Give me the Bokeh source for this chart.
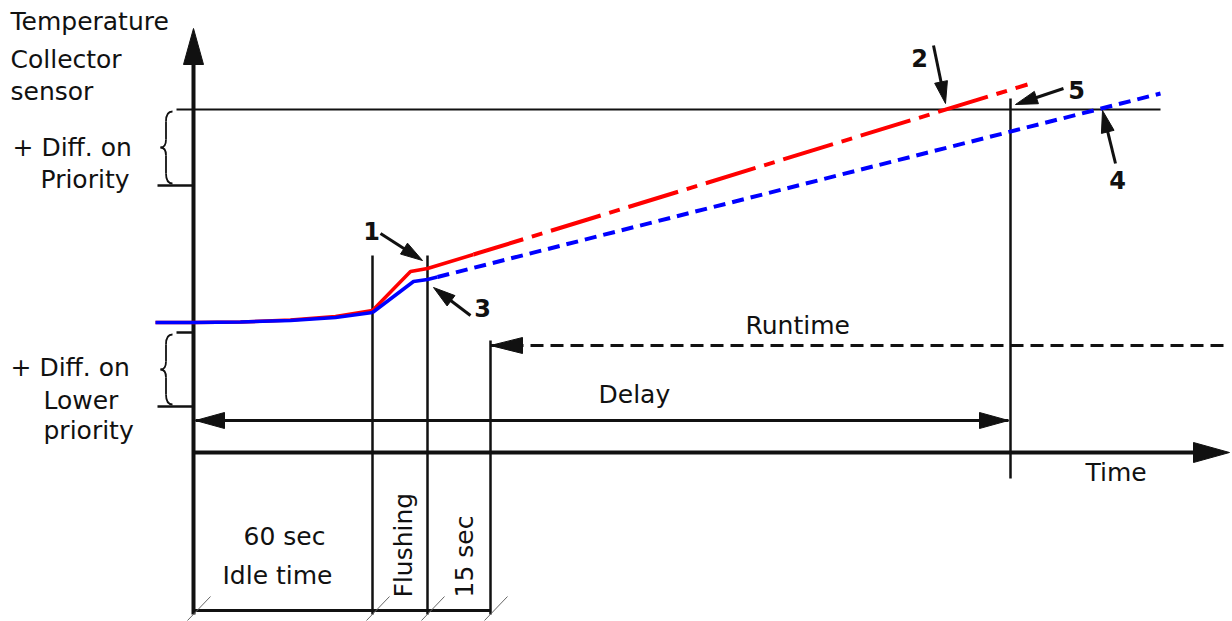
import math
from bokeh.plotting import figure
from bokeh.models import Range1d
from bokeh.core.properties import value
from bokeh.embed import file_html
from bokeh.resources import INLINE

# ---------------- data (diagram units) ----------------
# shared start of both sensor curves (idle period)
idle_x = [155, 193, 240, 290, 335, 372]
idle_red_y = [322, 322, 321.5, 319.5, 316, 310]
idle_blue_y = [322, 322, 321.5, 320, 317, 312]
# flushing rise, then the run phase
red_solid_x = [372, 410, 427, 473]
red_solid_y = [310, 271, 268, 254]
red_dash_x = [473, 1027]
red_dash_y = [254, 84]
blue_solid_x = [372, 413, 427, 437]
blue_solid_y = [312, 281, 279, 276.5]
blue_dash_x = [437, 1160]
blue_dash_y = [276.5, 93]

# axes
origin_x, origin_y = 193, 452
y_axis_top = 28
x_axis_end = 1229
threshold_y = 109
threshold_x = [176, 1160]
# short ticks on the temperature axis: (y, x_start)
tick_y = [185, 332, 406]
tick_x0 = [157, 176, 157]
brace_spans = [(111, 183), (334, 404)]

# time markers (x), their vertical extents
marker_x = [372, 427, 490, 1010]
marker_top = [255, 255, 340, 98]
marker_bottom = [614, 614, 614, 478]
bottom_line_y = 610

runtime_y = 345
runtime_x = [490, 1224]
delay_y = 420
delay_x = [195, 1008]

# numbered pointer arrows: label, label x, label baseline, shaft start, tip
pointer_labels = ["1", "2", "3", "4", "5"]
pointer_lx = [371, 919, 482, 1117, 1076]
pointer_ly = [238, 65, 315, 187, 97]
pointer_from = [(380, 233), (933, 45), (470, 315), (1115, 163), (1063, 88)]
pointer_tip = [(422, 260), (945, 103), (433, 287), (1102, 110), (1015, 104)]

# texts
left_texts = ["Temperature", "Collector", "sensor", "+ Diff. on", "Priority",
              "+ Diff. on", "Lower", "priority"]
left_tx = [10, 10, 10, 12, 40, 10, 43, 43]
left_ty = [29, 67, 99, 155, 187, 375, 408, 438]
mid_texts = ["Runtime", "Delay", "Time", "60 sec", "Idle time"]
mid_tx = [745, 598, 1085, 243, 222]
mid_ty = [333, 402, 480, 544, 583]
rot_texts = ["Flushing", "15 sec"]
rot_tx = [411, 472]
rot_ty = [597, 597]

# ---------------- figure ----------------
W, H = 1232, 621
p = figure(width=W, height=H, output_backend="svg", toolbar_location=None,
           x_range=Range1d(0, W), y_range=Range1d(H, 0),
           min_border=0, outline_line_color=None, background_fill_color="white")
p.axis.visible = False
p.grid.visible = False

FONT = value("DejaVu Sans")
INK = "#111111"
FS = "25px"
BASE_SHIFT = 8  # renderer puts the alphabetic baseline ~8px lower than requested


def head(tip, frm, L, Wd):
    dx, dy = tip[0] - frm[0], tip[1] - frm[1]
    n = math.hypot(dx, dy)
    ux, uy = dx / n, dy / n
    bx, by = tip[0] - ux * L, tip[1] - uy * L
    px, py = -uy * Wd / 2, ux * Wd / 2
    return [tip[0], bx + px, bx - px], [tip[1], by + py, by - py]


heads_x, heads_y = [], []


def add_head(tip, frm, L, Wd):
    hx, hy = head(tip, frm, L, Wd)
    heads_x.append(hx)
    heads_y.append(hy)


# axes
p.line([origin_x, origin_x], [614, y_axis_top + 20], line_color=INK, line_width=4)
p.line([origin_x, x_axis_end - 20], [origin_y, origin_y], line_color=INK, line_width=4)
add_head((origin_x, y_axis_top), (origin_x, y_axis_top + 50), 36, 20)
add_head((x_axis_end, origin_y), (x_axis_end - 50, origin_y), 36, 20)

# threshold line
p.line(threshold_x, [threshold_y, threshold_y], line_color=INK, line_width=2)
# ticks
p.segment(x0=tick_x0, y0=tick_y, x1=[origin_x] * len(tick_y), y1=tick_y,
          line_color=INK, line_width=2.5)

# braces
for top, bot in brace_spans:
    mid = (top + bot) / 2
    xs, xr, xt = 165.5, 172, 160
    p.quadratic(x0=[xr, xs, xt, xs], y0=[top, mid - 8, mid, bot - 10],
                x1=[xs, xt, xs, xr], y1=[top + 10, mid, mid + 8, bot],
                cx=[xs, xs, xs, xs], cy=[top, mid, mid, bot],
                line_color=INK, line_width=1.8)
    p.segment(x0=[xs, xs], y0=[top + 10, mid + 8], x1=[xs, xs], y1=[mid - 8, bot - 10],
              line_color=INK, line_width=1.8)

# time markers
p.segment(x0=marker_x, y0=marker_top, x1=marker_x, y1=marker_bottom,
          line_color=INK, line_width=2.5)
p.line([origin_x, marker_x[2]], [bottom_line_y, bottom_line_y], line_color=INK, line_width=3)
slash_x = [origin_x] + marker_x[:3]
p.segment(x0=[x - 6 for x in slash_x], y0=[620] * 4, x1=[x + 17 for x in slash_x], y1=[596] * 4,
          line_color="#666666", line_width=1)

# runtime & delay arrows
p.line(runtime_x, [runtime_y, runtime_y], line_color=INK, line_width=3, line_dash="13 7")
p.line([runtime_x[0] + 10, runtime_x[0] + 30], [runtime_y, runtime_y], line_color="white", line_width=4)
add_head((runtime_x[0], runtime_y), (runtime_x[0] + 50, runtime_y), 32, 16)
p.line(delay_x, [delay_y, delay_y], line_color=INK, line_width=3)
add_head((delay_x[0], delay_y), (delay_x[0] + 50, delay_y), 29, 16)
add_head((delay_x[1], delay_y), (delay_x[1] - 50, delay_y), 29, 16)

# sensor curves
p.line(idle_x, idle_red_y, line_color="red", line_width=3.5)
p.line(red_solid_x, red_solid_y, line_color="red", line_width=3.5)
p.line(red_dash_x, red_dash_y, line_color="red", line_width=4, line_dash="52 9 11 9")
p.line(idle_x, idle_blue_y, line_color="blue", line_width=3.5)
p.line(blue_solid_x, blue_solid_y, line_color="blue", line_width=3.5)
p.line(blue_dash_x, blue_dash_y, line_color="blue", line_width=4, line_dash="12 7")

# pointer arrows
for frm, tip in zip(pointer_from, pointer_tip):
    dx, dy = tip[0] - frm[0], tip[1] - frm[1]
    n = math.hypot(dx, dy)
    p.line([frm[0], tip[0] - dx / n * 12], [frm[1], tip[1] - dy / n * 12],
           line_color=INK, line_width=3)
    add_head(tip, frm, 22, 13)

p.patches(heads_x, heads_y, fill_color=INK, line_color=INK, line_width=1)

# texts
p.text(x=left_tx, y=[v - BASE_SHIFT for v in left_ty], text=left_texts, text_font=FONT,
       text_font_size=FS, text_color=INK, text_baseline="alphabetic", text_align="left")
p.text(x=mid_tx, y=[v - BASE_SHIFT for v in mid_ty], text=mid_texts,
       text_font=FONT, text_font_size=FS, text_color=INK,
       text_baseline="alphabetic", text_align="left")
p.text(x=[v - BASE_SHIFT for v in rot_tx], y=rot_ty, text=rot_texts, angle=math.pi / 2,
       text_font=FONT, text_font_size=FS, text_color=INK,
       text_baseline="alphabetic", text_align="left")
p.text(x=pointer_lx, y=[v - BASE_SHIFT for v in pointer_ly], text=pointer_labels, text_font=FONT,
       text_font_size="24px", text_font_style="bold", text_color=INK,
       text_baseline="alphabetic", text_align="center")

open("out.html", "w").write(file_html(p, INLINE))
